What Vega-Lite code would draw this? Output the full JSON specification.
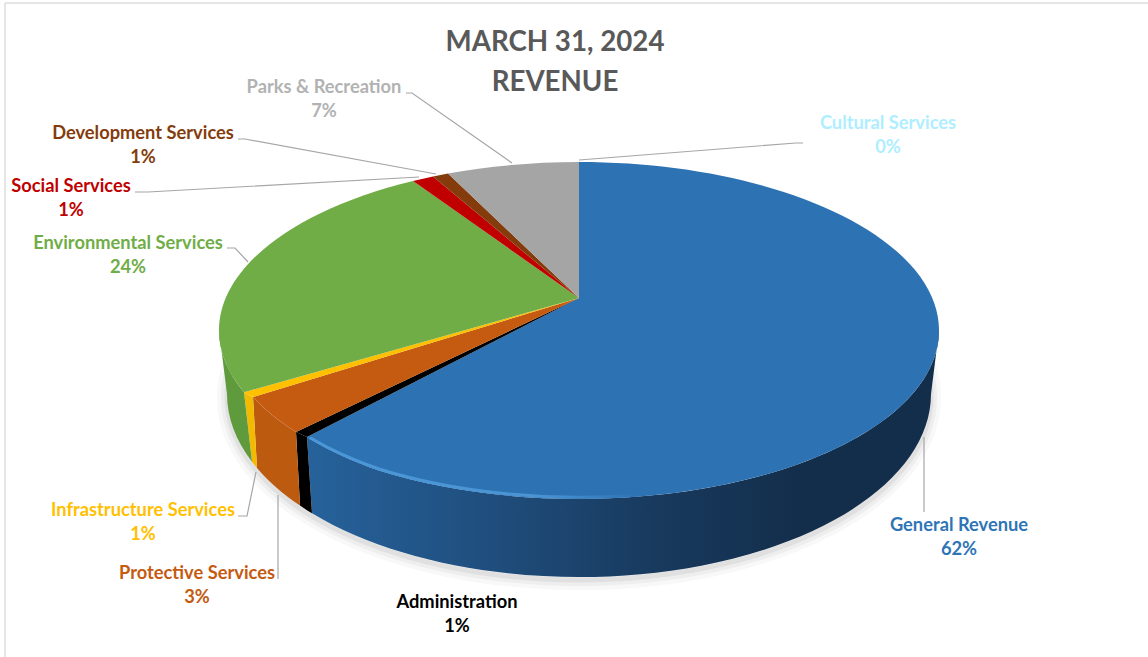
{
  "$schema": "https://vega.github.io/schema/vega-lite/v6.json",
  "width": 1148,
  "height": 657,
  "padding": 0,
  "autosize": {"type": "none"},
  "background": "#ffffff",
  "config": {"view": {"stroke": null}},
  "title": {
    "text": ["MARCH 31, 2024", "REVENUE"],
    "font": "Lato",
    "fontWeight": "bold",
    "fontSize": 27.7,
    "lineHeight": 40,
    "color": "#595959",
    "anchor": "middle",
    "frame": "group",
    "dx": -19,
    "dy": 101
  },
  "params": [
    {"name": "labelX", "value": {"General Revenue": 959, "Administration": 457, "Protective Services": 197, "Infrastructure Services": 143, "Environmental Services": 128, "Social Services": 71, "Development Services": 143, "Parks & Recreation": 324, "Cultural Services": 888}},
    {"name": "labelY", "value": {"General Revenue": 526, "Administration": 603, "Protective Services": 574, "Infrastructure Services": 511, "Environmental Services": 244, "Social Services": 187, "Development Services": 134, "Parks & Recreation": 88, "Cultural Services": 124}}
  ],
  "data": {
    "values": [
      {"category": "General Revenue", "share": 0.62},
      {"category": "Administration", "share": 0.01},
      {"category": "Protective Services", "share": 0.03},
      {"category": "Infrastructure Services", "share": 0.01},
      {"category": "Environmental Services", "share": 0.24},
      {"category": "Social Services", "share": 0.01},
      {"category": "Development Services", "share": 0.01},
      {"category": "Parks & Recreation", "share": 0.07},
      {"category": "Cultural Services", "share": 0.0}
    ]
  },
  "resolve": {"scale": {"shape": "independent", "color": "independent", "fill": "independent"}},
  "layer": [
    {
      "data": {"values": [{"edge": "left"}]},
      "mark": {"type": "rule", "color": "#dcdcdc", "strokeWidth": 1.5},
      "encoding": {"x": {"value": 5}, "y": {"value": 3}, "y2": {"value": 657}}
    },
    {
      "data": {"values": [{"edge": "top"}]},
      "mark": {"type": "rule", "color": "#dcdcdc", "strokeWidth": 1.5},
      "encoding": {"x": {"value": 5}, "x2": {"value": 1148}, "y": {"value": 3}}
    },
    {
      "data": {"values": [{"part": "shadow"}]},
      "mark": {"type": "point", "shape": "M-352 99A352 183 0 1 0 352 99A352 183 0 1 0 -352 99Z", "size": 4, "filled": false, "stroke": "#808080", "strokeWidth": 20, "opacity": 0.05},
      "encoding": {"x": {"value": 579}, "y": {"value": 298}}
    },
    {
      "data": {"values": [{"part": "shadow"}]},
      "mark": {"type": "point", "shape": "M-352 99A352 183 0 1 0 352 99A352 183 0 1 0 -352 99Z", "size": 4, "filled": false, "stroke": "#808080", "strokeWidth": 12, "opacity": 0.08},
      "encoding": {"x": {"value": 579}, "y": {"value": 298}}
    },
    {
      "data": {"values": [{"part": "shadow"}]},
      "mark": {"type": "point", "shape": "M-352 99A352 183 0 1 0 352 99A352 183 0 1 0 -352 99Z", "size": 4, "filled": false, "stroke": "#808080", "strokeWidth": 5, "opacity": 0.12},
      "encoding": {"x": {"value": 579}, "y": {"value": 298}}
    },
    {
      "transform": [{"filter": "datum.category === 'General Revenue'"}],
      "mark": {
        "type": "point",
        "shape": "M-272 139L-267 215.3A352 183 0 0 0 352 96L360 32.5A360 168.5 0 0 1 -200 172.6A360 168.5 0 0 1 -272 139Z",
        "size": 4,
        "filled": true,
        "opacity": 1,
        "fill": {
          "gradient": "linear",
          "x1": 0, "y1": 0, "x2": 1, "y2": 0,
          "stops": [
            {"offset": 0, "color": "#26629b"},
            {"offset": 0.3, "color": "#1f4d7c"},
            {"offset": 0.55, "color": "#183a5e"},
            {"offset": 0.78, "color": "#132e4b"},
            {"offset": 1, "color": "#132e4b"}
          ]
        }
      },
      "encoding": {"x": {"value": 579}, "y": {"value": 298}}
    },
    {
      "transform": [{"filter": "indexof(['Administration','Protective Services','Infrastructure Services','Environmental Services'], datum.category) >= 0"}],
      "mark": {"type": "point", "size": 4, "filled": true, "opacity": 1},
      "encoding": {
        "x": {"value": 579},
        "y": {"value": 298},
        "shape": {
          "field": "category",
          "type": "nominal",
          "legend": null,
          "scale": {
            "domain": ["Administration", "Protective Services", "Infrastructure Services", "Environmental Services"],
            "range": [
              "M-272 139L-267 215.3A352 183 0 0 1 -279 207.6L-283 134A360 168.5 0 0 0 -272 139Z",
              "M-283 134L-279 207.6A352 183 0 0 1 -322 169.9L-326 99A360 168.5 0 0 0 -283 134Z",
              "M-326 99L-322 169.9A352 183 0 0 1 -327 163.7L-335 94.2A360 168.5 0 0 0 -326 99Z",
              "M-335 94.2L-327 163.7A352 183 0 0 1 -352 96L-360 32.5A360 168.5 0 0 0 -335 94.2Z"
            ]
          }
        },
        "fill": {
          "field": "category",
          "type": "nominal",
          "legend": null,
          "scale": {
            "domain": ["Administration", "Protective Services", "Infrastructure Services", "Environmental Services"],
            "range": ["#000000", "#bc5a10", "#f2ba00", "#5f9a3c"]
          }
        }
      }
    },
    {
      "mark": {"type": "point", "size": 4, "filled": true, "opacity": 1},
      "encoding": {
        "x": {"value": 579},
        "y": {"value": 298},
        "shape": {
          "field": "category",
          "type": "nominal",
          "legend": null,
          "scale": {
            "domain": ["General Revenue", "Administration", "Protective Services", "Infrastructure Services", "Environmental Services", "Social Services", "Development Services", "Parks & Recreation", "Cultural Services"],
            "range": [
              "M0 0L0 -136A360 168.5 0 1 1 -200 172.6A360 168.5 0 0 1 -272 139Z",
              "M0 0L-272 139A360 168.5 0 0 1 -283 134Z",
              "M0 0L-283 134A360 168.5 0 0 1 -326 99Z",
              "M0 0L-326 99A360 168.5 0 0 1 -335 94.2Z",
              "M0 0L-335 94.2A360 168.5 0 0 1 -166 -117Z",
              "M0 0L-166 -117A360 168.5 0 0 1 -146 -121.5Z",
              "M0 0L-146 -121.5A360 168.5 0 0 1 -131 -124.4Z",
              "M0 0L-131 -124.4A360 168.5 0 0 1 0 -136Z",
              "M0 0L0 -136Z"
            ]
          }
        },
        "fill": {
          "field": "category",
          "type": "nominal",
          "legend": null,
          "scale": {
            "domain": ["General Revenue", "Administration", "Protective Services", "Infrastructure Services", "Environmental Services", "Social Services", "Development Services", "Parks & Recreation", "Cultural Services"],
            "range": ["#2d72b3", "#000000", "#c55a11", "#ffc000", "#70ad47", "#c00000", "#843c0c", "#a5a5a5", "#aeeeff"]
          }
        }
      }
    },
    {
      "transform": [{"filter": "datum.category === 'General Revenue'"}],
      "mark": {
        "type": "point",
        "shape": "M60 197A360 167 0 0 1 -200 171A360 167 0 0 1 -269 139.8",
        "size": 4,
        "filled": false,
        "opacity": 1,
        "strokeWidth": 3,
        "stroke": {
          "gradient": "linear",
          "x1": 0, "y1": 0, "x2": 1, "y2": 0,
          "stops": [
            {"offset": 0, "color": "#4b97d8"},
            {"offset": 0.7, "color": "#4a94d4"},
            {"offset": 1, "color": "#2d72b3"}
          ]
        }
      },
      "encoding": {"x": {"value": 579}, "y": {"value": 298}}
    },
    {
      "mark": {"type": "point", "size": 4, "filled": false, "opacity": 1, "stroke": "#a6a6a6", "strokeWidth": 1.2},
      "encoding": {
        "x": {"value": 579},
        "y": {"value": 298},
        "shape": {
          "field": "category",
          "type": "nominal",
          "legend": null,
          "scale": {
            "domain": ["General Revenue", "Administration", "Protective Services", "Infrastructure Services", "Environmental Services", "Social Services", "Development Services", "Parks & Recreation", "Cultural Services"],
            "range": [
              "M345 139L345 214",
              "M0 0",
              "M-301 197L-301 281",
              "M-341 218L-332 218L-323 174",
              "M-352 -50L-344 -50L-331 -36",
              "M-444 -106L-431 -106L-160 -121",
              "M-341 -159L-334 -159L-143 -124",
              "M-173 -205L-167 -205L-67 -135",
              "M0 -138L217 -155L224 -155"
            ]
          }
        }
      }
    },
    {
      "mark": {"type": "text", "font": "Lato", "fontWeight": "bold", "fontSize": 18.3, "align": "center", "baseline": "middle", "x": {"expr": "labelX[datum.category]"}, "y": {"expr": "labelY[datum.category]"}},
      "encoding": {
        "text": {"field": "category", "type": "nominal"},
        "color": {
          "field": "category",
          "type": "nominal",
          "legend": null,
          "scale": {
            "domain": ["General Revenue", "Administration", "Protective Services", "Infrastructure Services", "Environmental Services", "Social Services", "Development Services", "Parks & Recreation", "Cultural Services"],
            "range": ["#2e75b6", "#000000", "#c55a11", "#ffc000", "#70ad47", "#c00000", "#843c0c", "#b2b2b2", "#aeeeff"]
          }
        }
      }
    },
    {
      "mark": {"type": "text", "font": "Lato", "fontWeight": "bold", "fontSize": 18.3, "align": "center", "baseline": "middle", "x": {"expr": "labelX[datum.category]"}, "y": {"expr": "labelY[datum.category] + 24"}},
      "encoding": {
        "text": {"field": "share", "type": "quantitative", "format": ".0%"},
        "color": {
          "field": "category",
          "type": "nominal",
          "legend": null,
          "scale": {
            "domain": ["General Revenue", "Administration", "Protective Services", "Infrastructure Services", "Environmental Services", "Social Services", "Development Services", "Parks & Recreation", "Cultural Services"],
            "range": ["#2e75b6", "#000000", "#c55a11", "#ffc000", "#70ad47", "#c00000", "#843c0c", "#b2b2b2", "#aeeeff"]
          }
        }
      }
    }
  ]
}
